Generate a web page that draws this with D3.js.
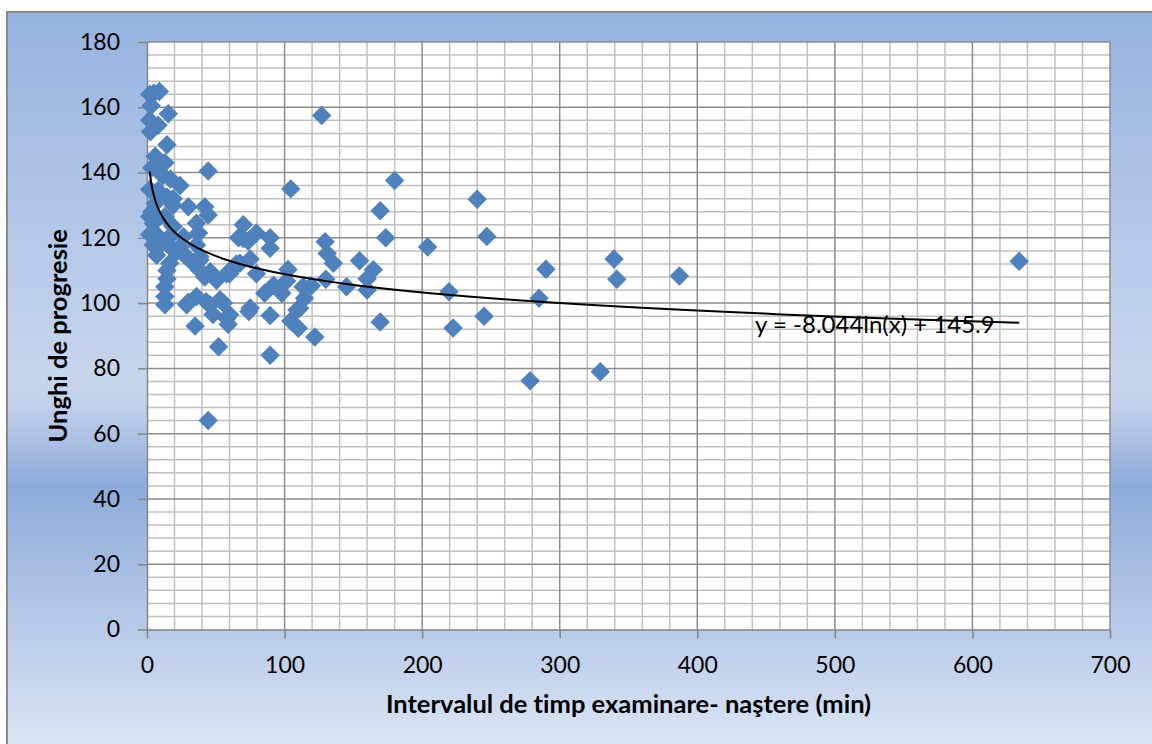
<!DOCTYPE html>
<html><head><meta charset="utf-8">
<script src="https://cdn.jsdelivr.net/npm/d3@7"></script>
<style>html,body{margin:0;padding:0;background:#fff;} svg{display:block;font-family:Lato,"Open Sans",sans-serif;font-variant-ligatures:none;font-feature-settings:"liga" 0;}</style>
</head><body><svg id="chart" width="1152" height="744"></svg>
<script>
// ---- data ----
const xValues = [2,5,9,3,15.5,2,8,2.5,14.5,6,13,3.5,9.5,11.5,17,24,2,8,14.5,19,6,19,30,42,44.5,3.5,2,13,36,4.5,19,44.5,70,7,2,16.5,26.5,37.5,9.5,4.5,19,7,29,38.5,16.5,14.5,14.5,13,50.5,46,60,65,70,75,13,13,30,36,46,53,48,58,59,35,52,75,74,44.5,79.5,89.5,66.5,73.5,89.5,79.5,67.5,62.5,58,49.5,42,38.5,33.5,38.5,27.5,21.5,36,24,102.5,101.5,98,92,85.5,89.5,89.5,122,110,104.5,109,111,114.5,113.5,119.5,130,129.5,131,135.5,145,104.5,127,154.5,164.5,160,160,169.5,173.5,169.5,180,204,219.5,222.5,240,247,245,278.5,285,290,329.5,339.5,341.5,387,634,55.5,28.8,43,60];
const yValues = [164,164.3,164.8,160.5,158,156,154.5,152.5,148.5,145,143,141.5,140,139,138,136,134.8,134.5,132.5,132,130.5,130,129.5,129.5,127,128,126.5,126.5,124.5,124.5,123.5,140.5,124,121,121,120.3,120.3,121.5,117.8,117.8,116.3,114.7,114.2,113.2,112.2,110,107.5,105,107,109.6,109,112,119.8,113.5,102,99.5,100.3,102,99.4,101,96.5,95.3,93.5,93,86.6,98.5,97.4,64,121.5,120,120,119,116.8,109,112.2,110.7,109,108,108,110,112.2,114.2,114.7,115.7,117.8,117.3,110.3,106.8,103,105.5,103,96.2,84,89.6,92.3,94.5,97.9,98.4,101.5,105,105.3,107.3,118.8,115.2,112.2,105,135,157.5,113,110.2,107.5,104,128.3,120,94.2,137.6,117.2,103.5,92.4,131.8,120.4,96,76.2,101.5,110.4,79,113.5,107.3,108.3,112.8,100,99.5,100.4,96.4];
const xTicks = [0,100,200,300,400,500,600,700];
const yTicks = [0,20,40,60,80,100,120,140,160,180];
const trendSlope = -8.044, trendIntercept = 145.9;
const trendLabel = "y = -8.044ln(x) + 145.9";
const xTitle = "Intervalul de timp examinare- naştere (min)";
const yTitle = "Unghi de progresie";

// ---- layout ----
const svg = d3.select("#chart");
const L = 147, R = 1110, T = 42, B = 629.5;
const x = d3.scaleLinear().domain([0,700]).range([L,R]);
const y = d3.scaleLinear().domain([0,180]).range([B,T]);

const defs = svg.append("defs");
const g = defs.append("linearGradient").attr("id","bg").attr("x1",0).attr("y1",0).attr("x2",0).attr("y2",1);
[[0,"#95b3e0"],[0.49,"#c7d5ed"],[0.53,"#c3d1eb"],[0.64,"#8dabdb"],[1,"#dde6f4"]]
  .forEach(([o,c])=>g.append("stop").attr("offset",o).attr("stop-color",c));

svg.append("rect").attr("x",7).attr("y",12).attr("width",1150).attr("height",740)
  .attr("fill","url(#bg)").attr("stroke","#8a8a8a").attr("stroke-width",2);

svg.append("rect").attr("x",L).attr("y",T).attr("width",R-L).attr("height",B-T).attr("fill","#fff");

// grid
const gridG = svg.append("g");
const minorX = d3.range(20,701,20).filter(v=>v%100!==0);
const minorY = d3.range(4,181,4).filter(v=>v%20!==0);
gridG.selectAll(".mx").data(minorX).join("line").attr("x1",d=>x(d)).attr("x2",d=>x(d)).attr("y1",T).attr("y2",B)
  .attr("stroke","#c0c0c0").attr("stroke-width",1.5);
gridG.selectAll(".my").data(minorY).join("line").attr("y1",d=>y(d)).attr("y2",d=>y(d)).attr("x1",L).attr("x2",R)
  .attr("stroke","#c0c0c0").attr("stroke-width",1.5);
gridG.selectAll(".Mx").data(xTicks.slice(1)).join("line").attr("x1",d=>x(d)).attr("x2",d=>x(d)).attr("y1",T).attr("y2",B)
  .attr("stroke","#8c8c8c").attr("stroke-width",1.5);
gridG.selectAll(".My").data(yTicks.slice(1)).join("line").attr("y1",d=>y(d)).attr("y2",d=>y(d)).attr("x1",L).attr("x2",R)
  .attr("stroke","#8c8c8c").attr("stroke-width",1.5);

// axes
const ax = svg.append("g").attr("transform",`translate(0,${B})`)
  .call(d3.axisBottom(x).tickValues(xTicks).tickSize(9).tickSizeOuter(0).tickPadding(18));
const ay = svg.append("g").attr("transform",`translate(${L},0)`)
  .call(d3.axisLeft(y).tickValues(yTicks).tickSize(9).tickSizeOuter(0).tickPadding(18));
[ax,ay].forEach(a=>{
  a.attr("font-family",null).attr("font-size",null);
  a.selectAll("path").attr("stroke","#868686").attr("stroke-width",1.5);
  a.selectAll("line").attr("stroke","#868686").attr("stroke-width",1.5);
  a.selectAll("text").attr("fill","#000").style("font-size","23px");
});

// points
svg.append("g").selectAll("path").data(xValues.map((v,i)=>[v,yValues[i]])).join("path")
  .attr("d", d3.symbol().type(d3.symbolSquare).size(190))
  .attr("transform", d=>`translate(${x(d[0])},${y(d[1])}) rotate(45)`)
  .attr("fill","#4f81bd");

// trendline
const xmin = d3.min(xValues), xmax = d3.max(xValues);
const tx = d3.range(0,301).map(i=>xmin*Math.pow(xmax/xmin,i/300));
svg.append("path").datum(tx).attr("fill","none").attr("stroke","#000").attr("stroke-width",2)
  .attr("d", d3.line().x(d=>x(d)).y(d=>y(trendSlope*Math.log(d)+trendIntercept)));

svg.append("text").attr("x",x(442)).attr("y",y(90.8)).style("font-size","24px").attr("fill","#000").text(trendLabel);

// titles
svg.append("text").attr("x",(L+R)/2).attr("y",713).attr("text-anchor","middle")
  .style("font-size","25.5px").style("font-weight","bold").text(xTitle);
svg.append("text").attr("transform",`translate(67,${(T+B)/2}) rotate(-90)`).attr("text-anchor","middle")
  .style("font-size","25.5px").style("font-weight","bold").text(yTitle);
</script></body></html>
